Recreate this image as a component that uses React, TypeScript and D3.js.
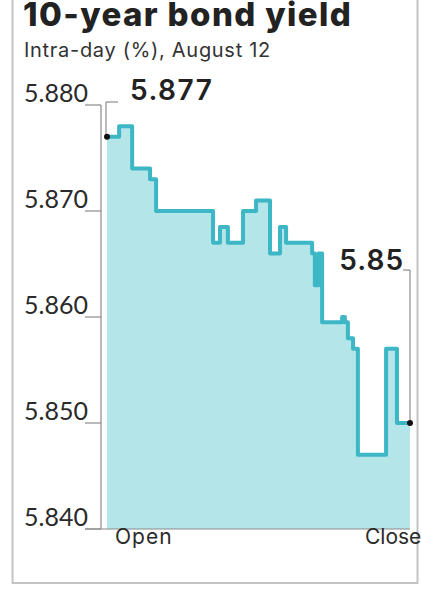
import React, {useRef, useEffect} from 'react';
import * as d3 from 'd3';

const width = 421;
const height = 604;
const lineColor = '#3db6c6';
const fillColor = '#b4e5e8';
const font = 'Inter, Lato, "Noto Sans", sans-serif';
const tickFont = 'Lato, "Noto Sans", sans-serif';

// position through the session, 0 = open, 100 = close
const times = [0, 4, 8.3, 14.2, 16.2, 35, 37.3, 39.9, 44.9, 49.2, 53.8, 57.1, 59.1, 67.7, 68.6, 69.8, 71, 77.6, 78.5, 79.5, 81.2, 82.8, 92.1, 95.7, 100];
const yields = [5.877, 5.878, 5.874, 5.873, 5.87, 5.867, 5.8685, 5.867, 5.87, 5.871, 5.866, 5.8685, 5.867, 5.866, 5.863, 5.866, 5.8595, 5.86, 5.8595, 5.858, 5.857, 5.847, 5.857, 5.85, 5.85];
const yTicks = [5.84, 5.85, 5.86, 5.87, 5.88];
const xLabels = ['Open', 'Close'];
const openLabel = '5.877';
const closeLabel = '5.85';

const draw = (el: SVGSVGElement) => {
  const svg = d3.select(el);
  svg.selectAll('*').remove();

  const x = d3.scaleLinear().domain([0, 100]).range([107, 410]);
  const y = d3.scaleLinear().domain([5.84, 5.88]).range([529, 105]);
  const data = times.map((t, i) => ({t, v: yields[i]}));

  // panel border
  svg.append('rect')
    .attr('x', 12.5).attr('y', -10)
    .attr('width', 405).attr('height', 593)
    .attr('fill', 'white')
    .attr('stroke', '#c4c4c4')
    .attr('stroke-width', 2);

  svg.append('text')
    .attr('x', 23).attr('y', 26)
    .attr('font-family', font).attr('font-weight', 800)
    .attr('font-size', 33).attr('letter-spacing', 1.4).attr('fill', '#222')
    .text('10-year bond yield');

  svg.append('text')
    .attr('x', 24).attr('y', 57)
    .attr('font-family', font)
    .attr('font-size', 20).attr('letter-spacing', 0.7).attr('fill', '#333')
    .text('Intra-day (%), August 12');

  svg.append('path')
    .datum(data)
    .attr('fill', fillColor)
    .attr('d', d3.area<{t: number; v: number}>()
      .curve(d3.curveStepAfter)
      .x(d => x(d.t))
      .y0(y(5.84))
      .y1(d => y(d.v)));

  svg.append('path')
    .datum(data)
    .attr('fill', 'none')
    .attr('stroke', lineColor)
    .attr('stroke-width', 4)
    .attr('stroke-linejoin', 'round')
    .attr('d', d3.line<{t: number; v: number}>()
      .curve(d3.curveStepAfter)
      .x(d => x(d.t))
      .y(d => y(d.v)));

  // axes
  const axis = svg.append('g').attr('stroke', '#8a8a8a').attr('stroke-width', 1.2);
  axis.append('line').attr('x1', 101).attr('x2', 101).attr('y1', y(5.88)).attr('y2', y(5.84));
  axis.append('line').attr('x1', 85).attr('x2', 410).attr('y1', y(5.84)).attr('y2', y(5.84));
  axis.selectAll('line.tick').data(yTicks).enter().append('line')
    .attr('class', 'tick')
    .attr('x1', 85).attr('x2', 101)
    .attr('y1', d => y(d)).attr('y2', d => y(d));

  svg.append('g').selectAll('text').data(yTicks).enter().append('text')
    .attr('x', 88).attr('y', d => y(d) - 3)
    .attr('text-anchor', 'end')
    .attr('font-family', tickFont).attr('font-size', 25).attr('fill', '#2a2a2a')
    .text(d => d3.format('.3f')(d));

  svg.append('g').selectAll('text').data(xLabels).enter().append('text')
    .attr('x', (d, i) => (i === 0 ? 115 : 365))
    .attr('y', 544)
    .attr('font-family', font).attr('font-size', 21)
    .attr('letter-spacing', (d, i) => (i === 0 ? 1 : 0))
    .attr('fill', '#2a2a2a')
    .text(d => d);

  // annotations
  const first = data[0];
  const last = data[data.length - 1];
  const ann = svg.append('g').attr('stroke', '#777').attr('stroke-width', 1).attr('fill', 'none');
  ann.append('path').attr('d', `M${x(first.t) - 1},${y(first.v)}V102H118`);
  ann.append('path').attr('d', `M403,270H${x(last.t)}V${y(last.v)}`);

  svg.append('circle').attr('cx', x(first.t)).attr('cy', y(first.v)).attr('r', 3).attr('fill', '#111');
  svg.append('circle').attr('cx', x(last.t)).attr('cy', y(last.v)).attr('r', 3).attr('fill', '#111');

  svg.append('text')
    .attr('x', 130).attr('y', 100)
    .attr('font-family', font).attr('font-weight', 600)
    .attr('font-size', 28).attr('letter-spacing', 1.5).attr('fill', '#222')
    .text(openLabel);

  svg.append('text')
    .attr('x', 404).attr('y', 270)
    .attr('text-anchor', 'end')
    .attr('font-family', font).attr('font-weight', 600)
    .attr('font-size', 28).attr('letter-spacing', 1).attr('fill', '#222')
    .text(closeLabel);
};

export default function App() {
  const ref = useRef<SVGSVGElement>(null);
  useEffect(() => {
    if (ref.current) draw(ref.current);
  }, []);
  return (
    <svg
      ref={ref}
      width={width}
      height={height}
      style={{position: 'absolute', left: 0, top: 0, background: 'white'}}
    />
  );
}
